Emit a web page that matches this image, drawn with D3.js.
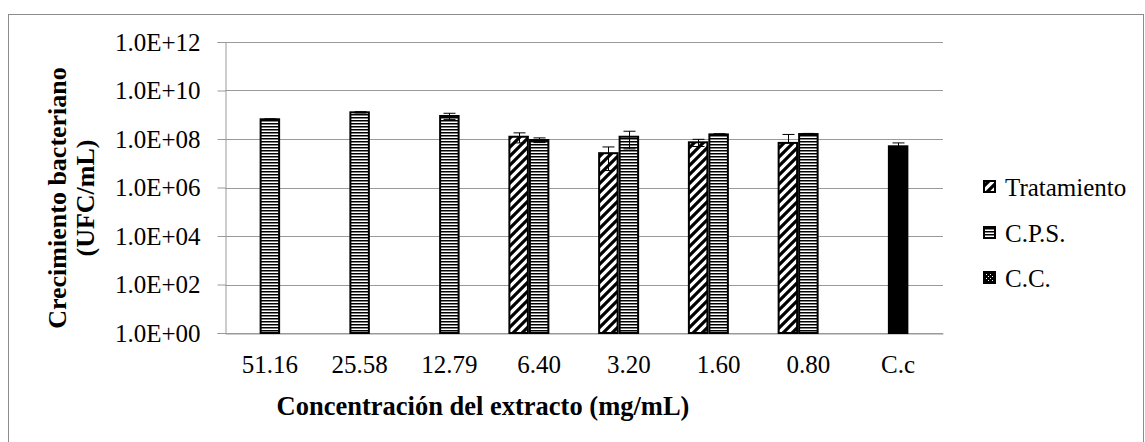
<!DOCTYPE html>
<html><head><meta charset="utf-8">
<script src="https://cdn.jsdelivr.net/npm/d3@7"></script>
<style>
html,body{margin:0;padding:0;background:#fff;}
svg{display:block;font-family:"Liberation Serif","Times New Roman",serif;}
</style></head>
<body>
<svg id="c" width="1145" height="442"></svg>
<script>
const categories = ["51.16","25.58","12.79","6.40","3.20","1.60","0.80","C.c"];
const seriesNames = ["Tratamiento","C.P.S.","C.C."];
const tratamiento    = [null,null,null,1.24e8,2.6e7,7.3e7,6.9e7,null];
const tratamientoErr = [null,null,null,5.5e7,2.1e7,2.4e7,8.5e7,null];
const cps            = [6.5e8,1.26e9,8.9e8,9.1e7,1.24e8,1.55e8,1.6e8,null];
const cpsErr         = [3e7,8e7,2.6e8,2e7,8.5e7,1e7,1e7,null];
const cc             = [null,null,null,null,null,null,null,5.0e7];
const ccErr          = [null,null,null,null,null,null,null,1.9e7];
const yTicks = [1e0,1e2,1e4,1e6,1e8,1e10,1e12];

const svg = d3.select("#c");
const W = 1145, H = 442;
const plot = {left:225, right:943, top:42, bottom:333};
const FONT = "'Liberation Serif','Times New Roman',serif";

// border
svg.append("rect").attr("x",8.5).attr("y",14.5).attr("width",1135).attr("height",H)
  .attr("fill","none").attr("stroke","#8c8c8c").attr("stroke-width",1);

// patterns
const defs = svg.append("defs");
const pDiag = defs.append("pattern").attr("id","pDiag").attr("patternUnits","userSpaceOnUse")
  .attr("width",9).attr("height",9);
pDiag.append("rect").attr("width",9).attr("height",9).attr("fill","#fff");
pDiag.append("path").attr("d","M-2,11 L11,-2 M-4,4 L4,-4 M5,13 L13,5").attr("stroke","#000").attr("stroke-width",3.2);
const pHor = defs.append("pattern").attr("id","pHor").attr("patternUnits","userSpaceOnUse")
  .attr("width",4).attr("height",3);
pHor.append("rect").attr("width",4).attr("height",3).attr("fill","#fff");
pHor.append("rect").attr("y",0).attr("width",4).attr("height",1.5).attr("fill","#000");
const pChk = defs.append("pattern").attr("id","pChk").attr("patternUnits","userSpaceOnUse")
  .attr("width",4).attr("height",4);
pChk.append("rect").attr("width",4).attr("height",4).attr("fill","#000");
pChk.append("rect").attr("x",0).attr("y",0).attr("width",1).attr("height",1).attr("fill","#fff");
pChk.append("rect").attr("x",2).attr("y",2).attr("width",1).attr("height",1).attr("fill","#fff");

const x0 = d3.scaleBand().domain(categories).range([plot.left, plot.right]).paddingInner(0).paddingOuter(0);
const groupFrac = 0.685;
const x1 = d3.scaleBand().domain(seriesNames)
  .range([x0.bandwidth()*(1-groupFrac)/2, x0.bandwidth()*(1+groupFrac)/2]);
const slotOf = {"Tratamiento":"Tratamiento","C.P.S.":"C.P.S.","C.C.":"C.P.S."};
const y = d3.scaleLog().domain([1,1e12]).range([plot.bottom, plot.top]);

// gridlines
svg.append("g").selectAll("line").data(yTicks).join("line")
  .attr("x1",plot.left).attr("x2",plot.right)
  .attr("y1",d=>Math.round(y(d))+0.5).attr("y2",d=>Math.round(y(d))+0.5)
  .attr("stroke","#9a9a9a").attr("stroke-width",1);

// y axis
const yAxis = svg.append("g").attr("transform",`translate(${plot.left+0.5},0)`)
  .call(d3.axisLeft(y).tickValues(yTicks).tickSize(8).tickPadding(17)
    .tickFormat(d=>"1.0E+"+String(Math.round(Math.log10(d))).padStart(2,"0")));
yAxis.attr("font-family",FONT);
yAxis.select(".domain").attr("stroke","#9a9a9a");
yAxis.selectAll(".tick line").attr("stroke","#9a9a9a");
yAxis.selectAll(".tick text").attr("font-size",25).attr("fill","#000");

// x axis
const xAxis = svg.append("g").attr("transform",`translate(0,${plot.bottom+0.5})`)
  .call(d3.axisBottom(x0).tickSize(0).tickPadding(22));
xAxis.attr("font-family",FONT);
xAxis.select(".domain").attr("stroke","#9a9a9a");
xAxis.selectAll(".tick text").attr("font-size",25).attr("fill","#000");

// bars
const seriesData = [
  {name:"Tratamiento", vals:tratamiento, errs:tratamientoErr, fill:"url(#pDiag)"},
  {name:"C.P.S.", vals:cps, errs:cpsErr, fill:"url(#pHor)"},
  {name:"C.C.", vals:cc, errs:ccErr, fill:"#000"}
];
const bw = x1.bandwidth();
seriesData.forEach(s=>{
  const pts = categories.map((c,i)=>({c, v:s.vals[i], e:s.errs[i]})).filter(d=>d.v!=null);
  const g = svg.append("g");
  g.selectAll("rect").data(pts).join("rect")
    .attr("x",d=>x0(d.c)+x1(slotOf[s.name])+1)
    .attr("y",d=>y(d.v))
    .attr("width",bw-2)
    .attr("height",d=>plot.bottom-y(d.v))
    .attr("fill",s.fill).attr("stroke","#000").attr("stroke-width",2);
  const eg = svg.append("g");
  pts.forEach(d=>{
    const cx = Math.round(x0(d.c)+x1(slotOf[s.name])+bw/2)+0.5;
    const top = y(d.v+d.e);
    const bot = (d.v-d.e)>0 ? y(d.v-d.e) : y(d.v);
    eg.append("line").attr("x1",cx).attr("x2",cx).attr("y1",top).attr("y2",bot)
      .attr("stroke","#000").attr("stroke-width",1);
    [top, (d.v-d.e)>0 ? bot : null].forEach(yy=>{
      if(yy==null) return;
      eg.append("line").attr("x1",cx-6).attr("x2",cx+6).attr("y1",yy).attr("y2",yy)
        .attr("stroke","#000").attr("stroke-width",1);
    });
  });
});

// axis titles
svg.append("text").attr("x",483).attr("y",415).attr("text-anchor","middle")
  .attr("font-size",26.5).attr("font-weight","bold").text("Concentración del extracto (mg/mL)");
const yt = svg.append("text").attr("transform","translate(0,198) rotate(-90)")
  .attr("text-anchor","middle").attr("font-size",26).attr("font-weight","bold");
yt.append("tspan").attr("x",0).attr("y",66).text("Crecimiento bacteriano");
yt.append("tspan").attr("x",0).attr("y",94).text("(UFC/mL)");

// legend
const legY = [187,233,278];
const legFills = ["url(#pDiag)","url(#pHor)","url(#pChk)"];
const leg = svg.append("g");
seriesNames.forEach((n,i)=>{
  leg.append("rect").attr("x",984).attr("y",legY[i]-6).attr("width",11).attr("height",11)
    .attr("fill",legFills[i]).attr("stroke","#000").attr("stroke-width",2);
  leg.append("text").attr("x",1005).attr("y",legY[i]+9).attr("font-size",25).text(n);
});
</script>
</body></html>
